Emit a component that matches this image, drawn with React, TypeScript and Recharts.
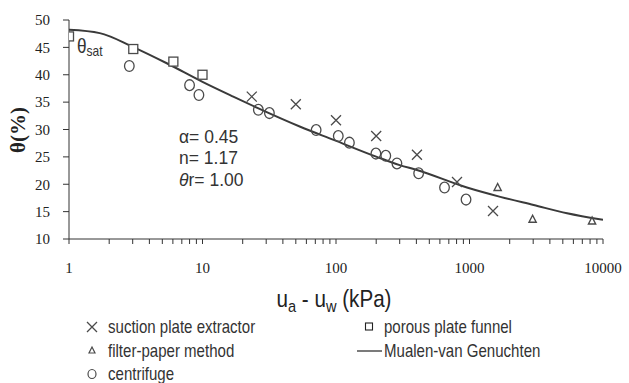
import React from 'react';
import { ScatterChart, Scatter, XAxis, YAxis, Legend } from 'recharts';

const suctionPlate = [
  { x: 23.4, y: 36.0 },
  { x: 50, y: 34.6 },
  { x: 100, y: 31.7 },
  { x: 200, y: 28.8 },
  { x: 404, y: 25.4 },
  { x: 806, y: 20.4 },
  { x: 1500, y: 15.1 },
];
const porousPlate = [
  { x: 1, y: 47.0 },
  { x: 3.03, y: 44.7 },
  { x: 6.05, y: 42.4 },
  { x: 10, y: 40.0 },
];
const filterPaper = [
  { x: 1625, y: 19.4 },
  { x: 2970, y: 13.6 },
  { x: 8280, y: 13.3 },
];
const centrifuge = [
  { x: 2.83, y: 41.6 },
  { x: 8.0, y: 38.1 },
  { x: 9.4, y: 36.3 },
  { x: 26.2, y: 33.6 },
  { x: 31.7, y: 33.0 },
  { x: 71, y: 29.9 },
  { x: 104, y: 28.8 },
  { x: 126, y: 27.6 },
  { x: 199, y: 25.6 },
  { x: 236, y: 25.2 },
  { x: 286, y: 23.8 },
  { x: 416, y: 22.0 },
  { x: 650, y: 19.4 },
  { x: 942, y: 17.2 },
];
// Mualem-van Genuchten fitted curve, traced
const fitCurve = [
  { x: 1, y: 48.2 },
  { x: 1.7, y: 47.6 },
  { x: 3, y: 45.1 },
  { x: 5.4, y: 42.1 },
  { x: 10, y: 38.7 },
  { x: 17, y: 36.0 },
  { x: 26, y: 33.9 },
  { x: 54, y: 30.5 },
  { x: 96, y: 28.1 },
  { x: 202, y: 25.0 },
  { x: 300, y: 23.5 },
  { x: 404, y: 22.6 },
  { x: 957, y: 19.4 },
  { x: 1700, y: 17.7 },
  { x: 3025, y: 16.2 },
  { x: 5380, y: 14.7 },
  { x: 10000, y: 13.5 },
];

const decades = [1, 10, 100, 1000];
const minorSteps = [1, 2, 3, 4, 5, 6, 7, 8, 9];
const xTicks = [...decades.flatMap((d) => minorSteps.map((m) => m * d)), 10000];
const xLabels = [1, 10, 100, 1000, 10000];
const yTicks = [10, 15, 20, 25, 30, 35, 40, 45, 50];

const serif = "'Liberation Serif', 'DejaVu Serif', 'Times New Roman', Times, serif";
const sans = "'Liberation Sans', Arial, sans-serif";
const markColor = '#4a4a4a';
const squeeze = 0.86; // the original uses a narrow sans

const OpenSquare = (props: any) => {
  const { cx, cy } = props;
  return <rect x={cx - 4.5} y={cy - 4.5} width={9} height={9} fill="#fff" stroke={markColor} strokeWidth={1.3} />;
};
const OpenCircle = (props: any) => {
  const { cx, cy } = props;
  return <ellipse cx={cx} cy={cy} rx={4.8} ry={5.4} fill="none" stroke={markColor} strokeWidth={1.3} />;
};
const XMark = (props: any) => {
  const { cx, cy } = props;
  const r = 5;
  return (
    <path
      d={`M${cx - r},${cy - r}L${cx + r},${cy + r}M${cx - r},${cy + r}L${cx + r},${cy - r}`}
      stroke={markColor}
      strokeWidth={1.3}
    />
  );
};
const OpenTriangle = (props: any) => {
  const { cx, cy } = props;
  return (
    <path d={`M${cx},${cy - 4}L${cx + 3.6},${cy + 3}L${cx - 3.6},${cy + 3}Z`} fill="none" stroke={markColor} strokeWidth={1.4} />
  );
};
const NoDot = () => <g />;

// narrow text: squeeze horizontally around the anchor point
const NarrowText = ({ x, y, children, anchor = 'start', size = 17.5, sx = squeeze, ...rest }: any) => (
  <text
    transform={`translate(${x},${y}) scale(${sx},1)`}
    textAnchor={anchor}
    fontFamily={sans}
    fontSize={size}
    fill="#333"
    {...rest}
  >
    {children}
  </text>
);

const XTick = (props: any) => {
  const { x, y, payload } = props;
  if (!xLabels.includes(payload.value)) return <g />;
  return (
    <text x={x} y={y + 27} textAnchor="middle" fontFamily={serif} fontSize={15} fill="#222">
      {payload.value}
    </text>
  );
};

const YLabel = () => (
  <text
    x={18}
    y={130}
    transform="rotate(-90 18 130)"
    textAnchor="middle"
    dominantBaseline="central"
    fontFamily={serif}
    fontWeight="bold"
    fontSize={21}
    fill="#222"
  >
    θ(%)
  </text>
);

const XLabel = () => (
  <NarrowText x={334} y={307} anchor="middle" size={24} fill="#222">
    u<tspan fontSize={17} dy={5}>a</tspan>
    <tspan dy={-5}> - u</tspan>
    <tspan fontSize={17} dy={5}>w</tspan>
    <tspan dy={-5}> (kPa)</tspan>
  </NarrowText>
);

const LegendBox = () => (
  <svg width={629} height={69} style={{ display: 'block' }}>
    <XMark cx={92} cy={13} />
    <NarrowText x={108} y={18.5}>suction plate extractor</NarrowText>
    <path d="M92,33L95,39L89,39Z" fill="none" stroke={markColor} strokeWidth={1.2} />
    <NarrowText x={108} y={42.5}>filter-paper method</NarrowText>
    <ellipse cx={92} cy={60} rx={4} ry={4.5} fill="none" stroke={markColor} strokeWidth={1.2} />
    <NarrowText x={108} y={65.5}>centrifuge</NarrowText>
    <rect x={365.5} y={9} width={7} height={7} fill="none" stroke="#222" strokeWidth={1.1} />
    <NarrowText x={384} y={18.5}>porous plate funnel</NarrowText>
    <line x1={357} y1={37} x2={382} y2={37} stroke="#333" strokeWidth={1.3} />
    <NarrowText x={384} y={42.5}>Mualen-van Genuchten</NarrowText>
  </svg>
);

export default function App() {
  return (
    <div style={{ position: 'absolute', left: 0, top: 0, background: '#fff' }}>
      <ScatterChart width={629} height={383} margin={{ top: 20, right: 26, bottom: 104, left: 0 }}>
        <XAxis
          type="number"
          dataKey="x"
          scale="log"
          domain={[1, 10000]}
          ticks={xTicks}
          interval={0}
          allowDataOverflow
          height={40}
          tickSize={5}
          tickMargin={2}
          stroke="#333"
          tick={<XTick />}
          label={<XLabel />}
        />
        <YAxis
          type="number"
          dataKey="y"
          domain={[10, 50]}
          ticks={yTicks}
          interval={0}
          width={69}
          tickSize={6}
          tickMargin={13}
          stroke="#333"
          tick={{ fontFamily: serif, fontSize: 15, fill: '#222' }}
          label={<YLabel />}
        />
        <Scatter
          name="Mualen-van Genuchten"
          data={fitCurve}
          line={{ stroke: '#3a3a3a', strokeWidth: 2 }}
          lineJointType="monotoneX"
          shape={<NoDot />}
          isAnimationActive={false}
        />
        <Scatter name="porous plate funnel" data={porousPlate} shape={<OpenSquare />} isAnimationActive={false} />
        <Scatter name="centrifuge" data={centrifuge} shape={<OpenCircle />} isAnimationActive={false} />
        <Scatter name="suction plate extractor" data={suctionPlate} shape={<XMark />} isAnimationActive={false} />
        <Scatter name="filter-paper method" data={filterPaper} shape={<OpenTriangle />} isAnimationActive={false} />
        <NarrowText x={77} y={53} size={20}>
          θ<tspan fontSize={14} dy={3}>sat</tspan>
        </NarrowText>
        <NarrowText x={179} y={143} size={17.5} sx={1}>α= 0.45</NarrowText>
        <NarrowText x={179} y={164} size={17.5} sx={1}>n= 1.17</NarrowText>
        <NarrowText x={179} y={186} size={17.5} sx={1}>
          <tspan fontStyle="italic">θ</tspan>r= 1.00
        </NarrowText>
        <Legend
          verticalAlign="middle"
          align="center"
          layout="horizontal"
          content={<LegendBox />}
          wrapperStyle={{ top: 314, left: 0, width: 629, height: 69 }}
        />
      </ScatterChart>
    </div>
  );
}
